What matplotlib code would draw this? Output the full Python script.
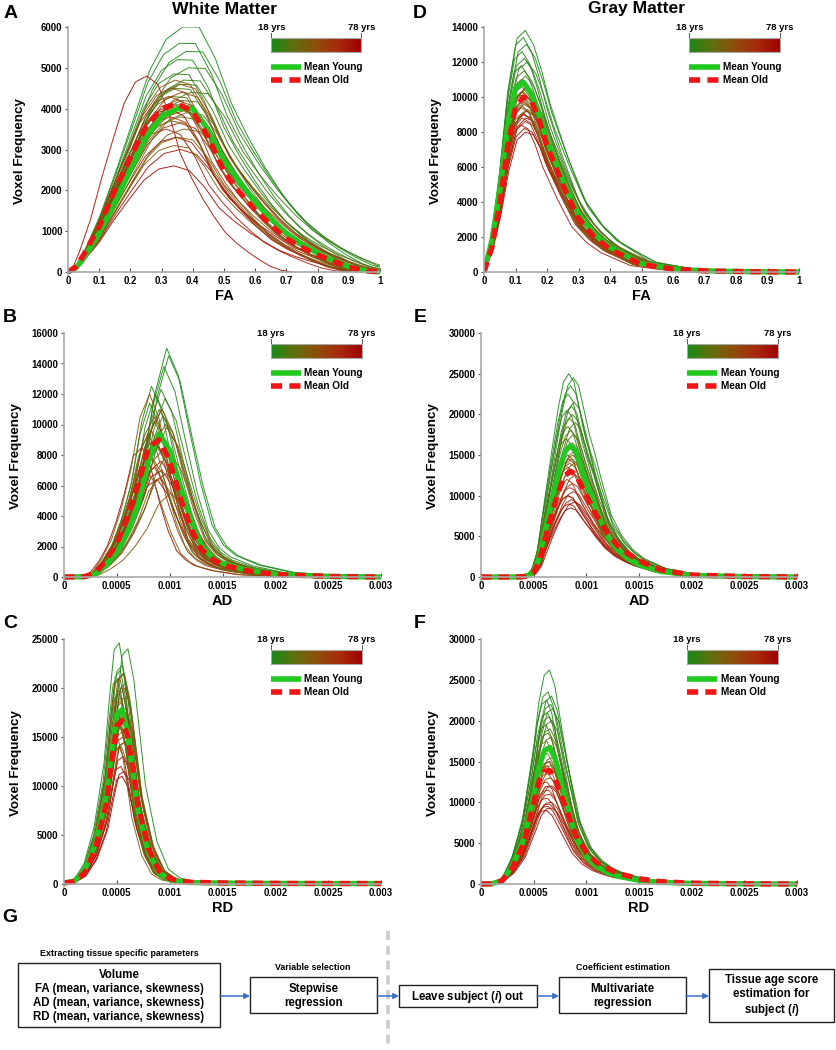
import numpy as np
import matplotlib.pyplot as plt
from matplotlib.colors import LinearSegmentedColormap
from matplotlib.patches import Rectangle

plt.rcParams['font.family'] = ['Liberation Sans', 'DejaVu Sans']
plt.rcParams['font.weight'] = 'bold'
plt.rcParams['mathtext.fontset'] = 'custom'
plt.rcParams['mathtext.it'] = 'Liberation Sans:bold:italic'
plt.rcParams['mathtext.rm'] = 'Liberation Sans:bold'

# === subjects (age drives line colour) ===
ages = [18, 19, 20, 21, 22, 23, 24, 25, 26, 27, 28, 29, 31, 33, 35, 37, 39, 41,
        43, 45, 47, 49, 51, 53, 55, 57, 59, 61, 63, 65, 67, 69, 71, 73, 75, 78]

# === A: white matter FA ===
wm_fa_x = [0, 0.025, 0.05, 0.1, 0.15, 0.2, 0.25, 0.3, 0.35, 0.4, 0.45, 0.5, 0.55,
           0.6, 0.65, 0.7, 0.75, 0.8, 0.85, 0.9, 0.95, 1.0]
wm_fa_young = [0, 100, 330, 950, 1700, 2500, 3300, 3800, 4000, 4000, 3480, 2740, 2200,
               1720, 1300, 950, 680, 460, 280, 130, 40, 0]
wm_fa_old = [0, 130, 420, 1110, 2000, 2800, 3560, 4000, 4120, 3930, 3300, 2460, 1950,
             1520, 1150, 820, 600, 420, 260, 120, 35, 0]
wm_fa_peaks = [6000, 5600, 5400, 5200, 5000, 4850, 4700, 4600, 4500, 4400, 4300, 4200,
               4100, 4000, 3900, 3800, 3700, 3500, 3300, 3100, 4700, 4600, 4500, 4400,
               4300, 4200, 4100, 3950, 3800, 3650, 3500, 3300, 3000, 4800, 2600, 4000]
wm_fa_stretch = [1.05, 1.02, 1.08, 1.0, 1.1, 0.97, 1.06, 1.03, 0.98, 1.12, 0.95, 1.04,
                 1.0, 0.96, 1.08, 1.02, 0.94, 1.06, 1.0, 0.97, 0.98, 1.02, 0.95, 1.04,
                 0.92, 1.0, 0.97, 1.06, 0.94, 1.02, 0.9, 0.99, 1.03, 0.72, 0.97, 0.93]

# === D: gray matter FA ===
gm_fa_x = [0, 0.025, 0.05, 0.075, 0.1, 0.125, 0.15, 0.175, 0.2, 0.25, 0.3, 0.35, 0.4,
           0.5, 0.6, 0.7, 0.8, 0.9, 1.0]
gm_fa_young = [0, 1800, 4700, 8300, 10500, 10850, 10200, 9000, 7550, 5300, 3340, 2200,
               1430, 480, 180, 70, 30, 10, 0]
gm_fa_old = [0, 1400, 3900, 7200, 9400, 10000, 9800, 8700, 7200, 5000, 3060, 2000,
             1300, 440, 170, 65, 30, 10, 0]
gm_fa_peaks = [13800, 13400, 13000, 12600, 12200, 12000, 11800, 11500, 11200, 11000,
               10800, 10600, 10500, 10300, 10100, 9900, 9700, 9500, 9300, 9100, 10800,
               10500, 10300, 10000, 9800, 9600, 9400, 9200, 9000, 8800, 8600, 8400,
               8200, 8800, 8000, 9000]
gm_fa_stretch = [1.05, 1.0, 1.08, 0.97, 1.03, 1.1, 0.95, 1.02, 1.06, 0.98, 1.04, 0.96,
                 1.08, 1.0, 0.94, 1.05, 1.02, 0.97, 1.1, 0.99, 1.0, 1.04, 0.96, 1.06,
                 0.98, 1.02, 0.95, 1.08, 1.0, 0.97, 1.04, 0.93, 1.02, 1.06, 1.05, 0.98]

# === B: white matter AD ===
wm_ad_x = [0, 0.0002, 0.0003, 0.0004, 0.0005, 0.0006, 0.0007, 0.0008, 0.0009, 0.001,
           0.0011, 0.0012, 0.0013, 0.0014, 0.0015, 0.0017, 0.002, 0.0025, 0.003]
wm_ad_young = [0, 20, 200, 800, 1600, 2900, 4700, 7600, 9400, 8300, 6000, 3800, 2100,
               1300, 900, 500, 180, 40, 0]
wm_ad_old = [0, 30, 300, 1100, 2200, 3900, 6000, 8500, 9000, 7600, 5200, 3200, 1800,
             1200, 800, 450, 160, 40, 0]
wm_ad_peaks = [15000, 14500, 13800, 12500, 12300, 12000, 11700, 11400, 11000, 10600,
               10200, 9800, 9400, 9000, 8600, 8200, 7800, 7200, 6500, 5500, 12000,
               11000, 10500, 10000, 9600, 9200, 8800, 8400, 8000, 7600, 7200, 6800,
               6400, 8500, 7000, 9000]
wm_ad_stretch = [1.08, 1.1, 1.05, 0.92, 1.02, 0.96, 1.06, 0.9, 1.0, 1.04, 0.95, 1.08,
                 0.88, 1.02, 0.97, 1.1, 0.93, 0.85, 1.0, 1.12, 0.9, 1.03, 0.95, 1.07,
                 0.92, 1.0, 0.97, 1.05, 0.9, 1.02, 0.95, 1.08, 0.98, 0.82, 1.03, 0.96]

# === E: gray matter AD ===
gm_ad_x = [0, 0.0003, 0.0004, 0.00045, 0.0005, 0.00055, 0.0006, 0.00065, 0.0007,
           0.00075, 0.0008, 0.00085, 0.0009, 0.00095, 0.001, 0.00105, 0.0011, 0.0012,
           0.0013, 0.0014, 0.0015, 0.0017, 0.002, 0.0025, 0.003]
gm_ad_young = [0, 0, 50, 200, 700, 2200, 5200, 8000, 10800, 13500, 15500, 16150, 15500,
               13500, 11500, 10000, 8200, 5000, 3300, 2200, 1500, 700, 200, 50, 0]
gm_ad_old = [0, 0, 40, 150, 550, 1800, 4300, 6800, 9000, 11000, 12500, 13000, 12600,
             11300, 10000, 8800, 7500, 5300, 3800, 2800, 2000, 900, 250, 60, 0]
gm_ad_peaks = [25000, 24500, 23500, 22500, 21500, 21000, 20500, 20000, 19500, 19000,
               18500, 18000, 17500, 17000, 16500, 16000, 15500, 15000, 14500, 14000,
               15000, 14500, 14000, 13500, 13000, 12500, 12000, 11500, 11000, 10500,
               10000, 9500, 9000, 9200, 8500, 10000]
gm_ad_stretch = [0.98, 1.03, 1.0, 0.97, 1.04, 1.01, 0.96, 1.02, 0.99, 1.05, 0.97, 1.0,
                 1.03, 0.95, 1.02, 0.98, 1.04, 0.97, 1.01, 0.99, 1.02, 0.98, 1.04, 0.97,
                 1.0, 1.05, 0.96, 1.02, 0.99, 1.03, 0.97, 1.01, 0.98, 1.04, 1.0, 0.97]

# === C: white matter RD ===
wm_rd_x = [0, 0.0001, 0.0002, 0.0003, 0.0004, 0.00045, 0.0005, 0.00055, 0.0006,
           0.00065, 0.0007, 0.0008, 0.0009, 0.001, 0.0011, 0.0012, 0.0015, 0.002,
           0.0025, 0.003]
wm_rd_young = [100, 300, 1500, 4200, 9000, 13500, 17300, 17800, 15500, 11500, 7500,
               3200, 1100, 450, 250, 150, 100, 60, 50, 50]
wm_rd_old = [100, 250, 1200, 3700, 8200, 12500, 16200, 16700, 15200, 11800, 8000, 3600,
             1300, 550, 300, 180, 110, 60, 50, 50]
wm_rd_peaks = [24600, 24000, 22300, 21800, 21500, 21000, 20500, 20000, 19500, 19000,
               18500, 18000, 17500, 17000, 16500, 16000, 15500, 15000, 14500, 14000,
               21500, 21000, 20000, 19000, 18000, 17500, 17000, 16500, 16000, 15000,
               14500, 14000, 13000, 12000, 11500, 11000]
wm_rd_stretch = [0.95, 1.1, 1.0, 0.97, 1.04, 0.93, 1.06, 1.0, 0.96, 1.03, 0.98, 1.07,
                 0.94, 1.01, 1.05, 0.97, 1.0, 0.92, 1.04, 0.99, 1.02, 0.96, 1.05, 0.98,
                 1.0, 1.06, 0.94, 1.03, 0.97, 1.01, 1.05, 0.95, 1.02, 0.98, 1.04, 1.0]

# === F: gray matter RD ===
gm_rd_x = [0, 0.0001, 0.0002, 0.0003, 0.0004, 0.0005, 0.00055, 0.0006, 0.00065, 0.0007,
           0.00075, 0.0008, 0.0009, 0.001, 0.0011, 0.0012, 0.0013, 0.0015, 0.0017,
           0.002, 0.0025, 0.003]
gm_rd_young = [0, 30, 400, 2200, 5300, 10700, 14200, 16300, 16700, 15500, 13000, 10500,
               5700, 3300, 2100, 1400, 950, 450, 200, 80, 30, 0]
gm_rd_old = [0, 30, 400, 2000, 4800, 9900, 12600, 13800, 13900, 13000, 11300, 9500,
             5900, 3800, 2600, 1900, 1300, 650, 300, 100, 30, 0]
gm_rd_peaks = [26200, 23500, 23000, 22500, 22000, 21500, 21000, 20500, 20000, 19500,
               19000, 18500, 18000, 17500, 17000, 16500, 16000, 15500, 15000, 14500,
               15000, 14500, 14000, 13500, 13000, 12500, 12000, 11500, 11000, 10500,
               10000, 9800, 9500, 9300, 9000, 12000]
gm_rd_stretch = [1.0, 0.98, 1.03, 0.96, 1.02, 1.05, 0.97, 1.0, 1.04, 0.95, 1.01, 0.98,
                 1.03, 0.96, 1.02, 1.0, 0.97, 1.05, 0.99, 1.02, 1.01, 0.97, 1.04, 0.98,
                 1.02, 0.96, 1.05, 0.99, 1.01, 0.97, 1.03, 1.0, 0.98, 1.04, 0.96, 1.02]

fa_ticks = [0, 0.1, 0.2, 0.3, 0.4, 0.5, 0.6, 0.7, 0.8, 0.9, 1.0]
fa_labels = ['0', '0.1', '0.2', '0.3', '0.4', '0.5', '0.6', '0.7', '0.8', '0.9', '1']
d_ticks = [0, 0.0005, 0.001, 0.0015, 0.002, 0.0025, 0.003]
d_labels = ['0', '0.0005', '0.001', '0.0015', '0.002', '0.0025', '0.003']

W, H = 836, 1050
fig = plt.figure(figsize=(W / 100, H / 100), dpi=100)
bg = fig.add_axes([0, 0, 1, 1])
bg.set_xlim(0, W)
bg.set_ylim(H, 0)
bg.axis('off')

age_cmap = LinearSegmentedColormap.from_list(
    'age', ['#168a16', '#5f7010', '#8f4e0a', '#a82a0c', '#a00000'])
GRAY = '#a8a8a8'


def draw_panel(left, right, top, zero, x, young, old, peaks, stretch,
               xticks, xlabels, ytop, ystep, xlabel):
    pad = 0.012
    bottom = zero + pad * (zero - top)
    ax = fig.add_axes([left / W, 1 - bottom / H, (right - left) / W, (bottom - top) / H])
    x = np.array(x)
    young = np.array(young, dtype=float)
    old = np.array(old, dtype=float)
    n = len(ages)
    order = [i for pair in zip(range(n // 2), range(n - 1, n // 2 - 1, -1)) for i in pair]
    for i in order:
        w = (ages[i] - 18) / 60
        base = (1 - w) * young + w * old
        ax.plot(x * stretch[i], base * peaks[i] / base.max(), color=age_cmap(w),
                lw=0.7, alpha=0.9)
    ax.plot(x, young, color='#20c820', lw=3.8, solid_capstyle='butt')
    ax.plot(x, old, color='#f01414', lw=3.8, dashes=(2.0, 1.3))

    ax.set_xlim(xticks[0], xticks[-1])
    ax.set_ylim(-pad * ytop, ytop)
    ax.set_xticks(xticks)
    ax.set_xticklabels(xlabels)
    ax.set_yticks(np.arange(0, ytop + 1, ystep))
    for s in ['top', 'right']:
        ax.spines[s].set_visible(False)
    for s in ['left', 'bottom']:
        ax.spines[s].set_color(GRAY)
        ax.spines[s].set_linewidth(1.2)
    ax.spines['bottom'].set_position(('data', 0))
    ax.tick_params(axis='x', direction='in', length=3, color='#555555', pad=3,
                   labelsize=6.9)
    ax.tick_params(axis='y', direction='out', length=2.5, color='#555555', pad=1.5,
                   labelsize=6.9)
    for lab in ax.get_xticklabels() + ax.get_yticklabels():
        lab.set_fontweight('bold')
    wpx = right - left
    hpx = bottom - top
    ax.set_ylabel('Voxel Frequency', fontsize=9.6, fontweight='bold')
    ax.yaxis.set_label_coords(-42 / wpx, 0.5)
    ax.set_xlabel(xlabel, fontsize=10.5, fontweight='bold')
    ax.xaxis.set_label_coords(0.5, -14 / hpx)

    # age colour bar
    cax = ax.inset_axes([0.652, 1 - 25 / hpx, 0.288, 14 / hpx])
    cax.imshow(np.linspace(0, 1, 256)[None, :], aspect='auto', cmap=age_cmap)
    cax.set_xticks([])
    cax.set_yticks([])
    for s in cax.spines.values():
        s.set_color(GRAY)
        s.set_linewidth(0.8)
    for xf in (0.652, 0.94):
        ax.plot([xf, xf], [1 - 11 / hpx, 1 - 6 / hpx], transform=ax.transAxes,
                color='#555555', lw=0.7, clip_on=False)
    ax.text(0.652, 1.0, '18 yrs', transform=ax.transAxes, ha='center', va='center',
            fontsize=6.8, fontweight='bold')
    ax.text(0.94, 1.0, '78 yrs', transform=ax.transAxes, ha='center', va='center',
            fontsize=6.8, fontweight='bold')

    # legend
    yy = 1 - 40 / hpx
    yo = 1 - 53 / hpx
    ax.plot([0.652, 0.748], [yy, yy], transform=ax.transAxes, color='#20c820',
            lw=4.0, solid_capstyle='butt', clip_on=False)
    ax.plot([0.652, 0.748], [yo, yo], transform=ax.transAxes, color='#f01414',
            lw=4.0, dashes=(2.0, 1.3), clip_on=False)
    ax.text(0.758, yy, 'Mean Young', transform=ax.transAxes, va='center',
            fontsize=7.2, fontweight='bold')
    ax.text(0.758, yo, 'Mean Old', transform=ax.transAxes, va='center',
            fontsize=7.2, fontweight='bold')
    return ax


draw_panel(68, 380, 27, 272, wm_fa_x, wm_fa_young, wm_fa_old, wm_fa_peaks,
           wm_fa_stretch, fa_ticks, fa_labels, 6000, 1000, 'FA')
draw_panel(484, 799, 27, 272, gm_fa_x, gm_fa_young, gm_fa_old, gm_fa_peaks,
           gm_fa_stretch, fa_ticks, fa_labels, 14000, 2000, 'FA')
draw_panel(64, 381, 333, 577, wm_ad_x, wm_ad_young, wm_ad_old, wm_ad_peaks,
           wm_ad_stretch, d_ticks, d_labels, 16000, 2000, 'AD')
draw_panel(481, 797, 333, 577, gm_ad_x, gm_ad_young, gm_ad_old, gm_ad_peaks,
           gm_ad_stretch, d_ticks, d_labels, 30000, 5000, 'AD')
draw_panel(64, 381, 639, 884, wm_rd_x, wm_rd_young, wm_rd_old, wm_rd_peaks,
           wm_rd_stretch, d_ticks, d_labels, 25000, 5000, 'RD')
draw_panel(481, 797, 639, 884, gm_rd_x, gm_rd_young, gm_rd_old, gm_rd_peaks,
           gm_rd_stretch, d_ticks, d_labels, 30000, 5000, 'RD')

# titles and panel letters
bg.text(224, 9, 'White Matter', ha='center', va='center', fontsize=12.6, fontweight='bold')
bg.text(637, 9, 'Gray Matter', ha='center', va='center', fontsize=12.6, fontweight='bold')
for letter, (lx, ly) in {'A': (11, 13), 'B': (10, 318), 'C': (10, 624), 'D': (420, 13),
                         'E': (420, 318), 'F': (420, 624), 'G': (10, 918)}.items():
    bg.text(lx, ly, letter, ha='center', va='center', fontsize=14, fontweight='bold')

# === G: flowchart ===
boxes = [
    (18, 963, 202, 64, 'Volume\nFA (mean, variance, skewness)\nAD (mean, variance, skewness)\n'
                       'RD (mean, variance, skewness)'),
    (250, 977, 127, 36, 'Stepwise\nregression'),
    (399, 985, 138, 22, r'Leave subject ($\it{i}$) out'),
    (559, 977, 127, 36, 'Multivariate\nregression'),
    (709, 969, 125, 53, 'Tissue age score\nestimation for\nsubject ($\it{i}$)'),
]
for bx, by, bw, bh, txt in boxes:
    bg.add_patch(Rectangle((bx, by), bw, bh, facecolor='white', edgecolor='#222222', lw=1.0))
    bg.text(bx + bw / 2, by + bh / 2 + 1, txt, ha='center', va='center', fontsize=8.3,
            fontweight='bold', linespacing=1.2)

captions = [(119, 954, 'Extracting tissue specific parameters'),
            (313, 968, 'Variable selection'),
            (623, 968, 'Coefficient estimation')]
for cx, cy, txt in captions:
    bg.text(cx, cy, txt, ha='center', va='center', fontsize=6.4, fontweight='bold')

for x0, x1 in [(220, 250), (377, 399), (537, 559), (686, 709)]:
    bg.annotate('', xy=(x1, 996), xytext=(x0, 996),
                arrowprops=dict(arrowstyle='-|>', color='#3a6fc8', lw=1.1,
                                mutation_scale=8, shrinkA=0, shrinkB=0))

bg.plot([388, 388], [931, 1048], color='#cccccc', lw=2.6, dashes=(2.5, 1.6))

fig.savefig('out.png', dpi=100)
